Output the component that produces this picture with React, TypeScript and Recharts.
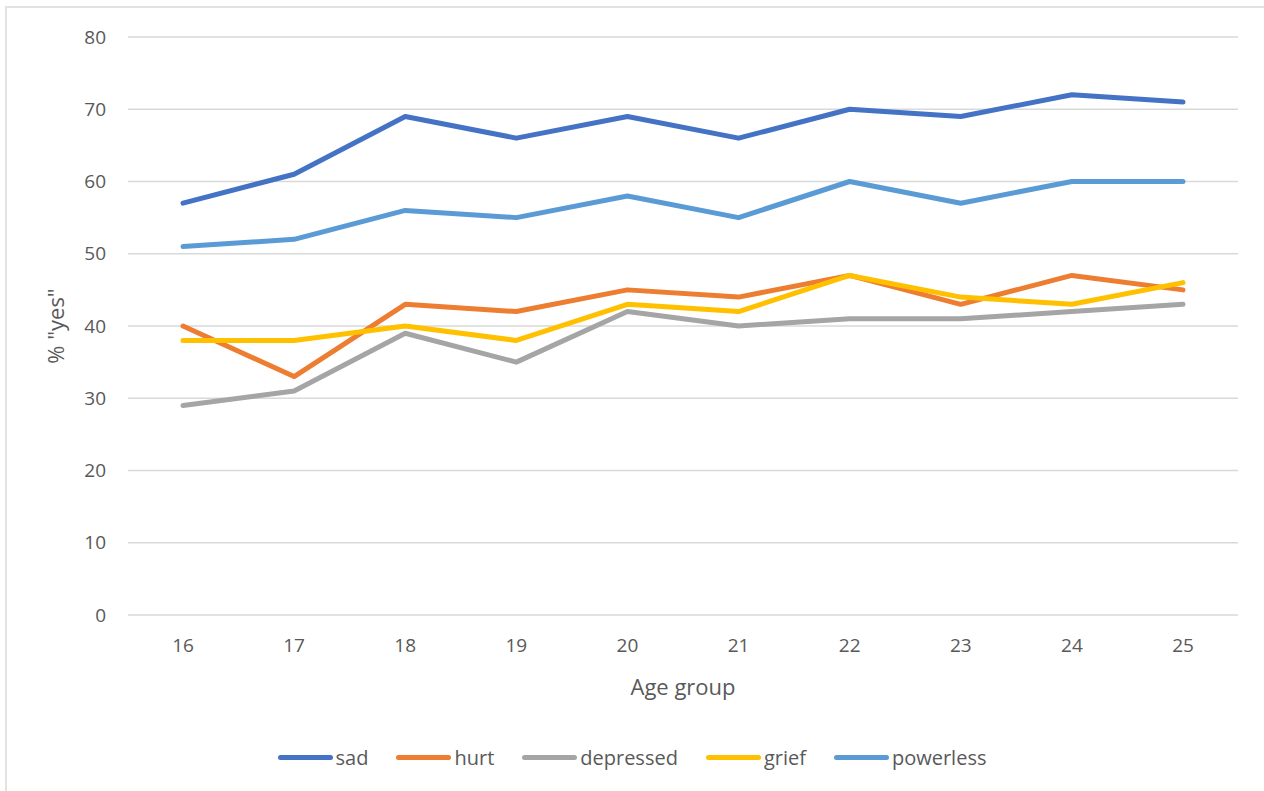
import { LineChart, Line, XAxis, YAxis, CartesianGrid, Legend } from 'recharts'

const ageGroups = ['16', '17', '18', '19', '20', '21', '22', '23', '24', '25']
const sad = [57, 61, 69, 66, 69, 66, 70, 69, 72, 71]
const hurt = [40, 33, 43, 42, 45, 44, 47, 43, 47, 45]
const depressed = [29, 31, 39, 35, 42, 40, 41, 41, 42, 43]
const grief = [38, 38, 40, 38, 43, 42, 47, 44, 43, 46]
const powerless = [51, 52, 56, 55, 58, 55, 60, 57, 60, 60]
const yTicks = [0, 10, 20, 30, 40, 50, 60, 70, 80]

const series = [
  { key: 'sad', color: '#4472C4' },
  { key: 'hurt', color: '#ED7D31' },
  { key: 'depressed', color: '#A5A5A5' },
  { key: 'grief', color: '#FFC000' },
  { key: 'powerless', color: '#5B9BD5' },
]

const data = ageGroups.map((age, i) => ({
  age,
  sad: sad[i],
  hurt: hurt[i],
  depressed: depressed[i],
  grief: grief[i],
  powerless: powerless[i],
}))

const font = '"Open Sans", "Liberation Sans", sans-serif'
const textColor = '#595959'

function LegendRow() {
  return (
    <div style={{ display: 'flex', justifyContent: 'center', gap: 28, fontFamily: font, fontSize: 20, color: textColor }}>
      {series.map((s) => (
        <div key={s.key} style={{ display: 'flex', alignItems: 'center' }}>
          <span style={{ display: 'inline-block', width: 55, height: 5, borderRadius: 3, background: s.color, marginRight: 3 }} />
          <span>{s.key}</span>
        </div>
      ))}
    </div>
  )
}

export default function App() {
  return (
    <div style={{ position: 'absolute', left: 0, top: 0, width: 1264, height: 791, background: '#fff' }}>
      <div
        style={{
          position: 'absolute',
          left: 5,
          top: 6,
          width: 1259,
          height: 785,
          boxSizing: 'border-box',
          borderTop: '2px solid #e2e2e2',
          borderLeft: '2px solid #e2e2e2',
        }}
      />
      <div style={{ position: 'absolute', left: 0, top: 0 }}>
        <LineChart width={1264} height={791} data={data} margin={{ top: 37, right: 26, bottom: 86, left: 0 }}>
          <CartesianGrid vertical={false} stroke="#d9d9d9" strokeWidth={1.5} />
          <XAxis
            dataKey="age"
            height={90}
            padding={{ left: 55, right: 55 }}
            axisLine={false}
            tickLine={false}
            tickMargin={18}
            tick={{ fontSize: 19, fill: textColor, fontFamily: font }}
            label={{ value: 'Age group', position: 'insideBottom', offset: 10, fontSize: 22, fill: textColor, fontFamily: font }}
          />
          <YAxis
            width={128}
            domain={[0, 80]}
            ticks={yTicks}
            axisLine={false}
            tickLine={false}
            tickMargin={16}
            tick={{ fontSize: 19, fill: textColor, fontFamily: font }}
            label={{ value: '% "yes"', angle: -90, position: 'insideLeft', offset: 56, fontSize: 22, fill: textColor, fontFamily: font, style: { textAnchor: 'middle' } }}
          />
          <Legend
            layout="horizontal"
            verticalAlign="middle"
            align="center"
            wrapperStyle={{ top: 744, left: 0, width: 1264 }}
            content={() => <LegendRow />}
          />
          {series.map((s) => (
            <Line
              key={s.key}
              type="linear"
              dataKey={s.key}
              stroke={s.color}
              strokeWidth={5}
              strokeLinecap="round"
              strokeLinejoin="round"
              dot={false}
              isAnimationActive={false}
            />
          ))}
        </LineChart>
      </div>
    </div>
  )
}
